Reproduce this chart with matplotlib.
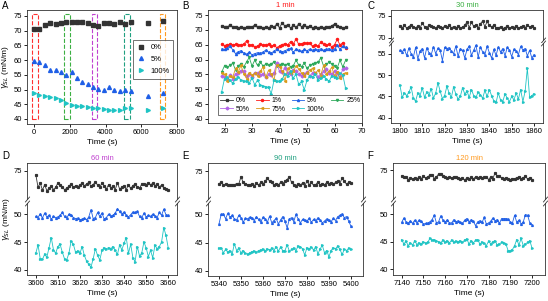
import numpy as np
import matplotlib
matplotlib.use('Agg')
import matplotlib.pyplot as plt
from matplotlib.patches import Rectangle

plt.rcParams['font.family'] = ['Liberation Sans', 'DejaVu Sans']
plt.rcParams['font.size'] = 5.5
plt.rcParams['axes.linewidth'] = 0.6
plt.rcParams['axes.edgecolor'] = '#333333'
plt.rcParams['xtick.major.width'] = 0.6
plt.rcParams['ytick.major.width'] = 0.6
plt.rcParams['xtick.major.size'] = 2
plt.rcParams['ytick.major.size'] = 2
plt.rcParams['xtick.major.pad'] = 1.5
plt.rcParams['ytick.major.pad'] = 1.5

# ---------------- data ----------------
# panel A, long-time surface tension
t_A = [0, 300, 600, 900, 1200, 1500, 1800, 2100, 2400, 2700, 3000,
       3300, 3600, 3900, 4200, 4500, 4800, 5100, 5400, 6400, 7200]
a_0 = [70.6, 70.6, 71.9, 72.5, 72.2, 72.6, 72.8, 72.8, 72.8, 72.8, 72.5,
       72.0, 71.6, 72.6, 72.6, 72.3, 72.8, 72.2, 73.0, 72.5, 73.3]
a_5 = [59.7, 59.5, 58.2, 56.7, 56.5, 55.8, 55.0, 56.0, 53.9, 52.5, 51.8,
       50.8, 50.1, 49.8, 50.7, 49.9, 49.6, 49.9, 49.4, 47.7, 48.8]
a_100 = [48.8, 48.0, 47.8, 47.6, 47.1, 46.5, 45.4, 44.8, 44.5, 44.3, 44.0,
         43.9, 43.6, 43.4, 43.1, 42.9, 43.0, 43.7, 43.7, 43.1, 43.7]
box_centers = [40, 1840, 3370, 5190, 7200]

# panel B, 1 min
t_B = np.arange(19, 65)
b_labels = ['0%', '1%', '5%', '25%', '50%', '75%', '100%']
b_0 = [71.2, 70.8, 71.0, 71.6, 70.9, 71.1, 70.7, 71.0, 70.6, 70.8,
       71.0, 70.9, 71.7, 70.8, 71.0, 70.6, 70.8, 70.7, 71.2, 70.9,
       72.0, 70.7, 72.4, 71.2, 71.8, 70.6, 71.5, 70.8, 72.1, 71.0,
       71.8, 70.9, 71.2, 70.6, 70.8, 70.5, 71.1, 70.7, 71.0, 70.8,
       71.4, 72.0, 71.2, 70.9, 70.7, 70.8]
b_1 = [65.3, 64.7, 65.0, 65.2, 65.0, 65.1, 64.9, 65.0, 65.2, 66.3,
       64.8, 65.0, 64.2, 64.6, 65.1, 64.9, 65.0, 65.2, 64.5, 64.9,
       64.0, 64.6, 65.0, 65.4, 65.0, 66.0, 65.2, 66.9, 65.1, 65.4,
       65.6, 65.5, 65.6, 64.4, 64.9, 64.6, 65.8, 65.2, 64.9, 65.1,
       64.3, 65.0, 66.8, 64.9, 65.7, 63.9]
b_5 = [63.6, 63.4, 63.8, 64.7, 63.2, 62.0, 62.6, 63.0, 62.2, 61.8,
       62.5, 61.6, 62.0, 62.3, 62.1, 62.5, 63.2, 62.5, 62.2, 62.8,
       63.5, 62.8, 62.6, 63.0, 63.4, 63.8, 62.4, 63.6, 63.1, 62.8,
       63.4, 63.0, 63.5, 63.2, 63.4, 63.3, 63.6, 63.1, 63.4, 63.7,
       63.2, 63.5, 64.8, 63.4, 64.5, 64.1]
b_25 = [55.8, 57.9, 57.4, 58.0, 58.8, 56.5, 57.9, 58.5, 57.5, 59.2,
        60.7, 57.8, 59.8, 58.0, 59.3, 57.8, 58.4, 58.0, 58.5, 59.2,
        57.9, 58.0, 58.4, 58.0, 58.6, 57.5, 57.9, 59.8, 58.1, 57.6,
        58.8, 57.0, 58.0, 58.4, 58.9, 59.0, 60.6, 57.9, 58.5, 59.0,
        58.6, 57.8, 57.2, 59.8, 57.5, 59.7]
b_50 = [54.4, 54.0, 53.5, 54.8, 53.5, 55.2, 55.5, 56.3, 56.0, 54.5,
        55.0, 54.2, 55.6, 55.3, 54.8, 55.2, 54.0, 55.0, 54.7, 55.5,
        58.8, 56.0, 55.8, 57.2, 55.6, 55.0, 56.5, 56.1, 55.2, 54.6,
        55.0, 55.8, 54.4, 55.5, 55.6, 54.2, 55.0, 56.0, 56.8, 55.6,
        55.0, 56.2, 55.5, 54.0, 56.8, 57.0]
b_75 = [55.5, 55.0, 52.8, 54.6, 54.0, 57.0, 55.8, 58.0, 55.2, 53.6,
        55.6, 54.8, 55.3, 54.5, 56.0, 57.5, 54.0, 56.4, 55.2, 53.0,
        58.2, 57.6, 56.0, 52.8, 57.0, 55.3, 56.0, 57.8, 56.8, 55.5,
        54.5, 55.6, 56.5, 57.0, 55.3, 56.4, 54.6, 58.0, 55.2, 56.0,
        57.4, 54.5, 55.8, 53.8, 55.0, 55.6]
b_100 = [49.2, 53.6, 54.0, 53.0, 52.0, 53.5, 54.2, 53.0, 52.6, 52.8,
         52.0, 53.8, 51.5, 53.0, 51.5, 51.0, 50.8, 50.6, 48.5, 53.0,
         52.6, 52.8, 53.5, 55.2, 54.4, 56.0, 53.8, 55.0, 51.6, 52.6,
         49.8, 53.0, 54.6, 54.0, 55.0, 53.2, 53.8, 54.4, 53.5, 52.6,
         54.5, 54.0, 53.8, 55.4, 54.8, 50.5]

# panel C, 30 min
t_C = np.arange(1800, 1861)
c_0 = [72.6, 72.3, 72.8, 72.2, 72.5, 73.0, 72.4, 72.3, 72.6, 72.2,
       73.4, 72.5, 72.3, 72.9, 72.6, 72.4, 72.2, 72.7, 72.5, 72.3,
       72.6, 72.4, 72.8, 72.3, 72.5, 72.2, 72.6, 72.3, 72.4, 72.8,
       73.6, 72.3, 73.5, 72.6, 72.9, 72.2, 73.2, 73.8, 72.5, 73.7,
       72.8, 72.4, 72.9, 72.3, 72.2, 72.5, 72.1, 72.3, 72.6, 72.2,
       72.4, 72.3, 72.7, 72.2, 72.4, 72.6, 72.3, 72.8, 72.5, 72.6, 72.3]
c_5 = [55.8, 55.5, 56.0, 54.6, 56.3, 55.0, 54.2, 56.5, 53.8, 55.6,
       56.2, 54.0, 56.4, 55.2, 54.8, 56.6, 55.0, 56.3, 55.8, 53.4,
       56.5, 56.2, 56.4, 55.6, 55.0, 56.8, 54.4, 56.2, 55.8, 54.0,
       56.0, 56.8, 54.6, 55.8, 57.0, 54.2, 56.6, 55.4, 54.8, 56.8,
       55.2, 54.0, 56.0, 54.6, 56.6, 55.4, 56.2, 54.5, 56.5, 55.8,
       54.3, 56.1, 55.6, 54.8, 56.7, 55.9, 56.2, 54.5, 55.8, 54.0, 54.8]
c_100 = [47.6, 44.8, 45.8, 45.2, 46.0, 47.2, 44.6, 43.9, 45.8, 45.2,
         47.0, 44.8, 46.0, 45.4, 46.8, 44.6, 45.8, 48.2, 46.2, 44.5,
         45.2, 47.4, 45.8, 44.8, 47.2, 45.6, 44.4, 45.0, 47.0, 45.6,
         46.2, 44.8, 46.6, 45.2, 44.8, 46.0, 45.4, 44.6, 46.4, 45.0,
         46.6, 45.2, 44.0, 43.6, 45.8, 44.2, 43.8, 45.6, 44.6, 43.8,
         45.0, 44.2, 45.8, 44.4, 46.6, 43.8, 46.2, 51.6, 44.8, 45.2, 45.6]

# panel D, 60 min
t_D = np.arange(3600, 3661)
d_0 = [74.3, 72.0, 72.8, 71.5, 72.5, 71.4, 71.8, 72.2, 71.6, 72.0,
       72.8, 72.4, 72.0, 71.6, 71.8, 72.2, 72.6, 72.0, 72.3, 72.1,
       72.4, 72.8, 72.3, 72.6, 72.9, 72.2, 72.5, 73.0, 72.4, 72.0,
       72.8, 72.3, 71.7, 72.5, 71.9, 72.2, 71.6, 72.8, 71.7, 72.0,
       72.2, 71.6, 72.5, 71.8, 72.3, 72.6, 72.0, 71.8, 72.6, 72.6,
       72.5, 72.8, 72.5, 72.7, 72.3, 72.6, 72.1, 72.4, 71.9, 71.7, 71.6]
d_5 = [49.6, 49.4, 50.1, 49.3, 50.2, 49.5, 49.8, 49.1, 49.6, 49.4,
       49.5, 49.8, 50.3, 49.6, 49.3, 50.0, 49.9, 49.4, 49.2, 49.3,
       49.0, 49.1, 49.3, 49.0, 49.5, 50.8, 49.2, 49.4, 50.3, 49.6,
       50.2, 49.1, 49.4, 50.0, 49.6, 49.8, 50.2, 51.0, 50.5, 50.0,
       50.4, 49.8, 49.5, 49.9, 50.4, 50.3, 50.5, 49.6, 49.3, 50.2,
       49.5, 49.8, 49.6, 50.0, 49.7, 49.4, 50.3, 49.8, 50.9, 49.9, 49.8]
d_100 = [43.0, 44.5, 42.0, 41.9, 42.8, 42.3, 44.0, 45.8, 43.6, 43.0,
         44.2, 44.6, 43.2, 42.0, 41.8, 43.0, 45.2, 44.6, 43.2, 43.4,
         43.0, 44.2, 42.6, 41.6, 41.0, 40.5, 42.0, 43.8, 42.6, 41.8,
         43.5, 44.0, 43.8, 44.0, 43.8, 44.2, 43.5, 42.8, 44.5, 43.6,
         44.8, 45.8, 43.0, 44.6, 42.2, 41.5, 44.2, 42.5, 43.0, 45.0,
         44.0, 42.4, 43.5, 42.2, 44.4, 43.8, 44.2, 45.0, 47.6, 46.2, 44.0]

# panel E, 90 min
t_E = np.arange(5340, 5401)
e_0 = [72.8, 73.0, 72.6, 72.7, 72.5, 72.6, 72.5, 72.6, 72.8, 72.7,
       74.0, 73.0, 72.8, 72.6, 72.5, 72.8, 72.4, 72.9, 72.5, 73.0,
       72.7, 73.2, 73.8, 73.2, 73.0, 72.5, 72.8, 72.6, 73.0, 72.8,
       73.2, 73.5, 74.0, 73.0, 72.6, 72.4, 72.8, 72.5, 72.9, 72.4,
       73.2, 72.6, 73.0, 72.5, 72.6, 73.1, 72.5, 72.8, 72.6, 73.0,
       72.8, 72.9, 72.7, 73.0, 73.2, 72.8, 73.8, 73.2, 72.7, 73.0, 72.9]
e_5 = [48.3, 50.0, 50.1, 49.2, 50.2, 49.5, 49.8, 49.2, 49.0, 49.8,
       49.4, 48.6, 49.3, 49.2, 49.5, 49.4, 48.9, 49.6, 49.1, 48.6,
       49.5, 49.2, 48.6, 49.7, 48.5, 48.9, 49.3, 48.3, 49.0, 49.6,
       48.8, 47.6, 49.2, 49.4, 48.7, 50.0, 49.2, 48.5, 49.1, 49.0,
       48.8, 49.3, 48.6, 49.1, 48.8, 49.4, 49.0, 48.5, 48.8, 49.2,
       49.0, 48.7, 49.3, 48.9, 49.6, 49.8, 50.1, 49.4, 49.6, 48.8, 47.9]
e_100 = [44.0, 44.1, 43.2, 43.8, 43.3, 43.6, 43.0, 44.8, 43.6, 44.0,
         43.2, 43.6, 43.1, 42.9, 43.2, 43.4, 43.5, 43.3, 43.6, 43.7,
         43.8, 43.5, 43.9, 43.7, 44.0, 43.6, 44.3, 43.5, 44.2, 43.6,
         43.6, 44.6, 43.5, 43.8, 44.0, 43.6, 44.4, 44.3, 43.9, 42.8,
         44.1, 43.9, 44.2, 43.7, 44.3, 43.0, 43.9, 44.5, 43.2, 43.6,
         42.5, 43.6, 44.1, 43.9, 44.4, 43.8, 42.9, 43.8, 43.6, 44.0, 43.9]

# panel F, 120 min
t_F = np.arange(7140, 7201)
f_0 = [74.0, 73.8, 73.8, 73.3, 73.6, 73.4, 73.6, 73.5, 73.7, 73.5,
       73.9, 73.6, 73.8, 74.1, 74.2, 73.5, 73.8, 74.3, 74.4, 74.0,
       73.7, 73.6, 73.7, 73.6, 73.8, 73.7, 73.6, 73.5, 73.6, 73.2,
       73.6, 73.4, 73.7, 73.4, 73.8, 73.6, 73.8, 73.6, 73.7, 73.8,
       73.3, 73.8, 73.5, 74.5, 73.9, 74.0, 73.6, 73.5, 73.6, 73.4,
       73.3, 73.5, 73.5, 73.6, 73.8, 73.5, 73.6, 73.9, 73.4, 73.6, 73.3]
f_5 = [48.5, 49.3, 48.6, 48.3, 48.8, 48.3, 48.9, 48.4, 48.9, 48.7,
       48.2, 48.3, 48.4, 48.6, 49.0, 49.8, 48.4, 48.6, 49.7, 48.9,
       48.5, 49.0, 48.4, 48.4, 49.0, 48.6, 48.8, 48.5, 48.3, 48.9,
       49.2, 48.6, 49.0, 48.7, 47.9, 48.6, 48.8, 48.5, 49.4, 48.2,
       48.4, 48.7, 49.3, 48.8, 49.0, 48.3, 49.2, 49.2, 49.2, 49.1,
       48.6, 48.4, 49.8, 48.5, 48.9, 48.2, 48.6, 49.9, 49.8, 48.4, 48.1]
f_100 = [45.4, 44.6, 45.1, 44.3, 44.8, 44.4, 45.2, 44.5, 44.8, 44.6,
         45.0, 44.7, 44.9, 45.6, 45.3, 45.4, 45.2, 45.0, 44.8, 45.3,
         44.9, 45.2, 44.8, 45.3, 44.9, 45.1, 45.0, 45.2, 44.9, 45.3,
         45.5, 44.6, 45.2, 44.8, 45.3, 45.4, 44.6, 44.9, 44.7, 44.3,
         45.1, 44.6, 45.0, 45.2, 44.4, 44.6, 44.9, 44.8, 44.6, 43.4,
         43.4, 43.6, 44.3, 45.4, 44.4, 45.6, 44.3, 44.6, 44.9, 45.2, 43.9]

# ---------------- style ----------------
c_black = '#333333'
c_red = '#ff1a1a'
c_blue = '#1f5fe6'
c_green = '#2ca85a'
c_purple = '#b264e6'
c_orange = '#d99a1a'
c_cyan = '#1fc4c4'
box_colors = ['#ff3030', '#3cb043', '#c040d0', '#20a080', '#ff9a20']
ylab = r'$\gamma_{SL}$ (mN/m)'

W, H = 548, 301
fig = plt.figure(figsize=(W/100, H/100), dpi=100, facecolor='w')


def rect(x0, y0, x1, y1):
    # pixel box (top-left origin) -> figure fraction
    return [x0/W, 1 - y1/H, (x1 - x0)/W, (y1 - y0)/H]


# ---------------- A ----------------
axA = fig.add_axes(rect(27, 10, 177, 124))
axA.plot(t_A, a_0, 's', color=c_black, ms=2.6, label='0%')
axA.plot(t_A, a_5, '^', color=c_blue, ms=2.8, label='5%')
axA.plot(t_A, a_100, '>', color=c_cyan, ms=2.8, label='100%')
for xc, bc in zip(box_centers, box_colors):
    axA.add_patch(Rectangle((xc - 150, 40.0), 300, 35.6, fill=False,
                            ls='--', lw=0.8, ec=bc))
axA.set_xlim(-400, 8000)
axA.set_ylim(38.3, 77)
axA.set_xticks([0, 2000, 4000, 6000, 8000])
axA.set_yticks(np.arange(40, 76, 5))
axA.set_xlabel('Time (s)', fontsize=6, labelpad=2)
axA.set_ylabel(ylab, fontsize=6, labelpad=2)
axA.legend(loc='upper left', bbox_to_anchor=(0.68, 0.77), fontsize=5.5,
           frameon=True, fancybox=False, edgecolor='#333333', handlelength=1.2,
           borderpad=0.5, labelspacing=0.6, handletextpad=0.6).get_frame().set_linewidth(0.6)

# ---------------- B ----------------
axB = fig.add_axes(rect(208, 10, 362, 123))
b_series = [b_0, b_1, b_5, b_25, b_50, b_75, b_100]
b_colors = [c_black, c_red, c_blue, c_green, c_purple, c_orange, c_cyan]
b_marks = ['s', 'o', '^', 'v', 'D', '<', '>']
b_lines = []
for v, c, m, lb in zip(b_series, b_colors, b_marks, b_labels):
    ln, = axB.plot(t_B[:len(v)], v, '-', marker=m, color=c, lw=0.6, ms=1.5, label=lb)
    b_lines.append(ln)
axB.set_xlim(14, 70)
axB.set_ylim(38.6, 76.7)
axB.set_xticks(np.arange(20, 71, 10))
axB.set_yticks(np.arange(40, 76, 5))
axB.set_xlabel('Time (s)', fontsize=6, labelpad=2)
axB.set_title('1 min', color=c_red, fontsize=5.5, pad=2)
# row order 0,1,5,25 / 50,75,100 (legend fills columns first)
order = [0, 4, 1, 5, 2, 6, 3]
axB.legend([b_lines[i] for i in order], [b_labels[i] for i in order],
           loc='lower left', bbox_to_anchor=(0.045, 0.04), ncol=4, fontsize=5,
           frameon=True, fancybox=False, edgecolor='#333333', handlelength=1.8,
           columnspacing=0.9, borderpad=0.3, labelspacing=0.25,
           handletextpad=0.4).get_frame().set_linewidth(0.6)


# ---------------- C-F (broken y axis) ----------------
def broken(x0, x1, top, gap_t, gap_b, bot, t, series, xlim, xticks,
           up_lim, up_ticks, lo_lim, lo_ticks, title, tcolor):
    ax_u = fig.add_axes(rect(x0, top, x1, gap_t))
    ax_l = fig.add_axes(rect(x0, gap_b, x1, bot))
    for ax in (ax_u, ax_l):
        for v, c, m in series:
            ax.plot(t[:len(v)], v, '-', marker=m, color=c, lw=0.6, ms=1.3)
        ax.set_xlim(xlim)
        ax.set_xticks(xticks)
    ax_u.set_ylim(up_lim)
    ax_u.set_yticks(up_ticks)
    ax_l.set_ylim(lo_lim)
    ax_l.set_yticks(lo_ticks)
    ax_u.spines['bottom'].set_visible(False)
    ax_l.spines['top'].set_visible(False)
    ax_u.tick_params(axis='x', bottom=False, labelbottom=False)
    ax_l.set_xlabel('Time (s)', fontsize=6, labelpad=2)
    ax_u.set_title(title, color=tcolor, fontsize=5.5, pad=2)
    kw = dict(marker=[(-1, -1.2), (1, 1.2)], markersize=4, linestyle='none',
              color='k', mec='#333333', mew=0.6, clip_on=False)
    ax_u.plot([0, 1], [0, 0], transform=ax_u.transAxes, **kw)
    ax_l.plot([0, 1], [1, 1], transform=ax_l.transAxes, **kw)
    return ax_u, ax_l


broken(391, 543, 10, 40, 43, 123, t_C,
       [(c_0, c_black, 's'), (c_5, c_blue, '^'), (c_100, c_cyan, '>')],
       (1796, 1864), np.arange(1800, 1861, 10),
       (69.5, 76.3), [70, 75], (38.8, 57.5), [40, 45, 50, 55],
       '30 min', '#3cb043')
broken(27, 177, 163, 199, 203, 275, t_D,
       [(d_0, c_black, 's'), (d_5, c_blue, '^'), (d_100, c_cyan, '>')],
       (3596, 3664), np.arange(3600, 3661, 10),
       (69.9, 76.4), [75], (39.1, 52.0), [40, 45, 50],
       '60 min', '#c040d0')
broken(208, 363, 163, 199, 203, 276, t_E,
       [(e_0, c_black, 's'), (e_5, c_blue, '^'), (e_100, c_cyan, '>')],
       (5335, 5405.5), np.arange(5340, 5401, 10),
       (70.1, 76.4), [75], (39.1, 52.0), [40, 45, 50],
       '90 min', '#20a080')
broken(393, 545, 163, 199, 203, 275, t_F,
       [(f_0, c_black, 's'), (f_5, c_blue, '^'), (f_100, c_cyan, '>')],
       (7136, 7206), np.arange(7140, 7201, 10),
       (69.8, 76.3), [75], (39.0, 52.0), [40, 45, 50],
       '120 min', '#ff9a20')

fig.text(7/W, 1 - 219/H, ylab, fontsize=6, rotation=90, ha='center', va='center')

# panel letters
for lt, px, py in [('A', 2, 1), ('B', 182, 1), ('C', 367, 1),
                   ('D', 2, 151), ('E', 182, 151), ('F', 367, 151)]:
    fig.text(px/W, 1 - py/H, lt, fontsize=7, ha='left', va='top')

fig.savefig('out.png', dpi=100)
